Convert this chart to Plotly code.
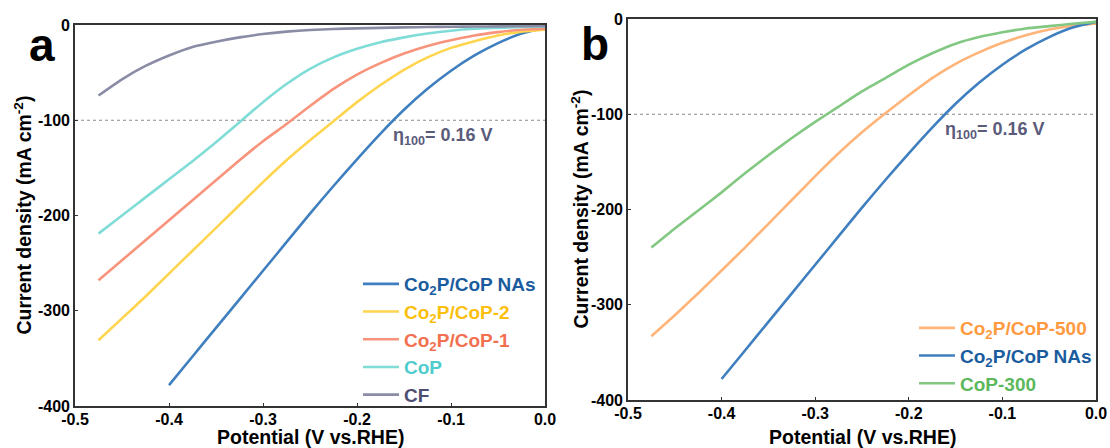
import plotly.graph_objects as go

# ---------------- data: LSV polarisation curves (mA cm^-2 vs V vs. RHE) ----------------
# panel a
V_NAS = [-0.400, -0.375, -0.350, -0.325, -0.300, -0.275, -0.250, -0.225, -0.200,
         -0.175, -0.150, -0.125, -0.100, -0.075, -0.050, -0.025, 0.0]
J_NAS = [-378, -348, -318, -288, -258, -228, -198, -169, -141,
         -114, -89, -67, -48, -32, -19, -9, -3]

V_STD = [-0.475, -0.450, -0.425, -0.400, -0.375, -0.350, -0.325, -0.300, -0.275, -0.250,
         -0.225, -0.200, -0.175, -0.150, -0.125, -0.100, -0.075, -0.050, -0.025, 0.0]
J_COP2 = [-331, -308, -285, -261, -237, -213, -189, -165, -142, -121,
          -101, -81, -63, -47, -34, -24, -17, -11, -7, -5]
J_COP1 = [-268, -247, -226, -205, -184, -163, -142, -122, -104, -85,
          -67, -52, -40, -30, -22, -16, -11, -7.5, -5, -4]
J_COP = [-219, -200, -181, -162, -143, -123, -102, -81, -62, -46,
         -34, -25, -18, -13, -9, -6, -4, -3, -2, -1.5]
J_CF = [-74, -57, -43, -32, -23, -17.5, -13, -9.5, -7, -5.3,
        -4.2, -3.5, -3, -2.5, -2.1, -1.8, -1.6, -1.4, -1.2, -1]

# panel b
J_COP500 = [-333, -311, -288, -264, -240, -215, -190, -165, -141, -119,
            -99, -80, -62, -47, -35, -25, -17, -11, -7, -5]
J_COP300 = [-240, -220, -201, -182, -162, -143, -125, -108, -92, -76,
            -62, -48, -36, -26, -19, -14, -10, -7.5, -5, -3]

ETA_LEVEL = -100          # reference current density for the overpotential
ETA_TEXT = "η<sub>100</sub>= 0.16 V"
ETA_POS = (-0.164, -117)

X_TICKS = [-0.5, -0.4, -0.3, -0.2, -0.1, 0.0]
X_LABELS = ["-0.5", "-0.4", "-0.3", "-0.2", "-0.1", "0.0"]
Y_TICKS = [0, -100, -200, -300, -400]
Y_LABELS = ["0", "-100", "-200", "-300", "-400"]

X_TITLE = "Potential (V vs.RHE)"
Y_TITLE = "Current density (mA cm<sup>-2</sup>)"

# ---------------- style ----------------
FONT = "Liberation Sans, Arial, sans-serif"
C_NAS, T_NAS = "#3f7fbf", "#1a5c9e"
C_COP2, T_COP2 = "#ffd54f", "#fbbf10"
C_COP1, T_COP1 = "#f8937c", "#f2704f"
C_COP, T_COP = "#80dcd6", "#4fcccc"
C_CF, T_CF = "#8a8ca6", "#4e4e72"
C_500, T_500 = "#ffb47a", "#ff9a40"
C_300, T_300 = "#82c882", "#5cb85c"
LW = 2.6


def label(txt, color):
    return f"<span style='color:{color}'>{txt}</span>"


fig = go.Figure()


def curve(x, y, name, color, tcolor, xa, ya, legend):
    fig.add_trace(go.Scatter(
        x=x, y=y, mode="lines", name=label(name, tcolor),
        line=dict(color=color, width=LW, shape="spline", smoothing=0.5),
        xaxis=xa, yaxis=ya, legend=legend, hoverinfo="skip"))


# panel a traces (legend order)
curve(V_NAS, J_NAS, "Co<sub>2</sub>P/CoP NAs", C_NAS, T_NAS, "x", "y", "legend")
curve(V_STD, J_COP2, "Co<sub>2</sub>P/CoP-2", C_COP2, T_COP2, "x", "y", "legend")
curve(V_STD, J_COP1, "Co<sub>2</sub>P/CoP-1", C_COP1, T_COP1, "x", "y", "legend")
curve(V_STD, J_COP, "CoP", C_COP, T_COP, "x", "y", "legend")
curve(V_STD, J_CF, "CF", C_CF, T_CF, "x", "y", "legend")

# panel b traces
curve(V_STD, J_COP500, "Co<sub>2</sub>P/CoP-500", C_500, T_500, "x2", "y2", "legend2")
curve(V_NAS, J_NAS, "Co<sub>2</sub>P/CoP NAs", C_NAS, T_NAS, "x2", "y2", "legend2")
curve(V_STD, J_COP300, "CoP-300", C_300, T_300, "x2", "y2", "legend2")

W, H = 1110, 448
# plot areas in pixels: (left, right, top, bottom)
AREA_A = (75, 545, 25, 406)
AREA_B = (628, 1096, 19, 400)


def xdom(a):
    return [a[0] / W, a[1] / W]


def ydom(a):
    return [(H - a[3]) / H, (H - a[2]) / H]


tickfont = dict(family=FONT, size=16, color="#000", weight="bold")
titlefont = dict(family=FONT, size=19.5, color="#000", weight="bold")


def bold(labels):
    return [f"<b>{t}</b>" for t in labels]


def xaxis(dom, anchor):
    return dict(domain=dom, anchor=anchor, range=[-0.5, 0.0], tickvals=X_TICKS,
                ticktext=bold(X_LABELS), showline=True, mirror=True, linecolor="#333",
                linewidth=1.6, ticks="inside", ticklen=3, tickcolor="#333",
                ticklabelstandoff=-2,
                showgrid=False, zeroline=False, tickfont=tickfont, automargin=False)


def yaxis(dom, anchor):
    return dict(domain=dom, anchor=anchor, range=[-400, 0], tickvals=Y_TICKS,
                ticktext=bold(Y_LABELS), showline=True, mirror=True, linecolor="#333",
                linewidth=1.6, ticks="inside", ticklen=3, tickcolor="#333",
                showgrid=False, zeroline=False, tickfont=tickfont, automargin=False)


legfont = dict(family=FONT, size=19, weight="bold")

fig.update_layout(
    width=W, height=H, margin=dict(l=0, r=0, t=0, b=0),
    paper_bgcolor="white", plot_bgcolor="white",
    font=dict(family=FONT, weight="bold"),
    xaxis=xaxis(xdom(AREA_A), "y"), yaxis=yaxis(ydom(AREA_A), "x"),
    xaxis2=xaxis(xdom(AREA_B), "y2"), yaxis2=yaxis(ydom(AREA_B), "x2"),
    legend=dict(x=358 / W, y=(H - 265) / H, xanchor="left", yanchor="top",
                bgcolor="rgba(0,0,0,0)", font=legfont, itemwidth=36),
    legend2=dict(x=914 / W, y=(H - 309) / H, xanchor="left", yanchor="top",
                 bgcolor="rgba(0,0,0,0)", font=legfont, itemwidth=36),
    showlegend=True,
)

# axis titles
for area, ycx in ((AREA_A, 22), (AREA_B, 579)):
    cx = (area[0] + area[1]) / 2
    fig.add_annotation(xref="paper", yref="paper", x=cx / W, y=-2 / H,
                       text=X_TITLE, showarrow=False, xanchor="center", yanchor="bottom",
                       font=titlefont)
    cy = (area[2] + area[3]) / 2
    fig.add_annotation(xref="paper", yref="paper", x=ycx / W, y=(H - cy) / H,
                       text=Y_TITLE, showarrow=False, textangle=-90,
                       xanchor="center", yanchor="middle", font=titlefont)

# dotted reference line at the 100 mA cm^-2 level
for xr, yr in (("x", "y"), ("x2", "y2")):
    fig.add_shape(type="line", xref=f"{xr} domain", yref=yr, x0=0, x1=1,
                  y0=ETA_LEVEL, y1=ETA_LEVEL,
                  line=dict(color="#8a8a8a", width=1, dash="dot"), layer="below")
    fig.add_annotation(xref=xr, yref=yr, x=ETA_POS[0], y=ETA_POS[1], text=ETA_TEXT,
                       showarrow=False, xanchor="left", yanchor="middle",
                       font=dict(family=FONT, size=18, color="#5b5b7b", weight="bold"))

# panel letters
for letter, px, py in (("a", 42, 45), ("b", 595, 44)):
    fig.add_annotation(xref="paper", yref="paper", x=px / W, y=(H - py) / H,
                       text=letter, showarrow=False, xanchor="center", yanchor="middle",
                       font=dict(family=FONT, size=46, color="#000", weight="bold"))

fig.write_html("out.html")
